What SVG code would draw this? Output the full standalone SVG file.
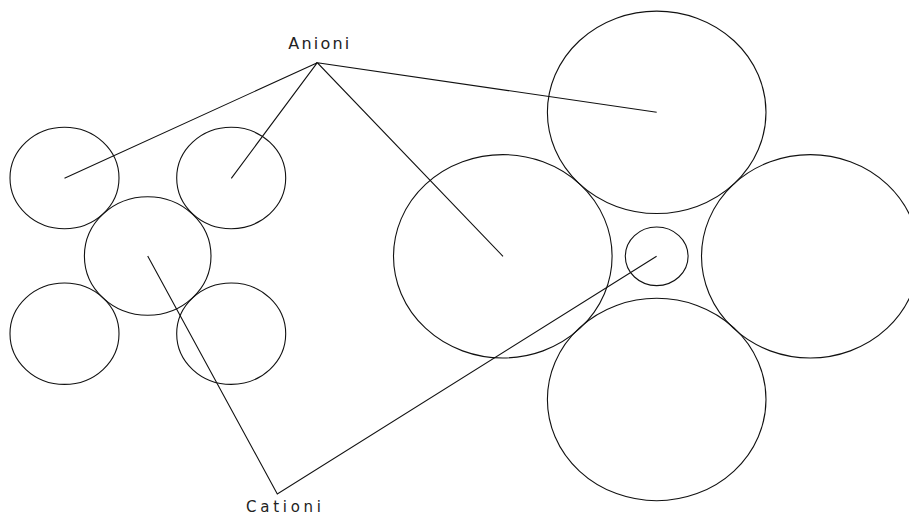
<svg xmlns="http://www.w3.org/2000/svg" width="909" height="515" viewBox="0 0 909 515">
<style>
.ion{fill:none;stroke:#111;stroke-width:1.1}
.ln{stroke:#111;stroke-width:1.1;fill:none}
.lbl{font-family:"DejaVu Sans","Liberation Sans",sans-serif;fill:#222}
</style>
<rect width="909" height="515" fill="#fff"/>
<g id="small-anion-tl"><ellipse class="ion" cx="64.5" cy="178" rx="54.5" ry="50.7"/></g>
<g id="small-anion-tr"><ellipse class="ion" cx="231.2" cy="178" rx="54.5" ry="50.7"/></g>
<g id="small-cation"><ellipse class="ion" cx="147.7" cy="256" rx="63.3" ry="59.3"/></g>
<g id="small-anion-bl"><ellipse class="ion" cx="64.5" cy="333.7" rx="54.5" ry="50.7"/></g>
<g id="small-anion-br"><ellipse class="ion" cx="231.2" cy="333.7" rx="54.5" ry="50.7"/></g>
<g id="big-anion-left"><ellipse class="ion" cx="502.8" cy="256.3" rx="109.3" ry="101.7"/></g>
<g id="big-anion-top"><ellipse class="ion" cx="656.7" cy="112.3" rx="109.3" ry="101.2"/></g>
<g id="big-anion-bottom"><ellipse class="ion" cx="656.7" cy="399.5" rx="109.3" ry="101.2"/></g>
<g id="big-anion-right"><ellipse class="ion" cx="810.3" cy="256.3" rx="108.8" ry="101.7"/></g>
<g id="big-cation"><ellipse class="ion" cx="656.7" cy="256.3" rx="31.4" ry="29.3"/></g>
<g id="connectors">
<polyline class="ln" points="64.5,178.3 317.3,62.7 231.3,178.3"/>
<polyline class="ln" points="503,256.3 317.3,62.7 656.7,112.3"/>
<polyline class="ln" points="147.7,256 277.3,494 656.6,256.3"/>
</g>
<g id="label-anioni"><text class="lbl" x="288.3" y="49.3" font-size="16" textLength="61" lengthAdjust="spacing">Anioni</text></g>
<g id="label-cationi"><text class="lbl" x="246" y="512.3" font-size="15" textLength="75" lengthAdjust="spacing">Cationi</text></g>
</svg>
